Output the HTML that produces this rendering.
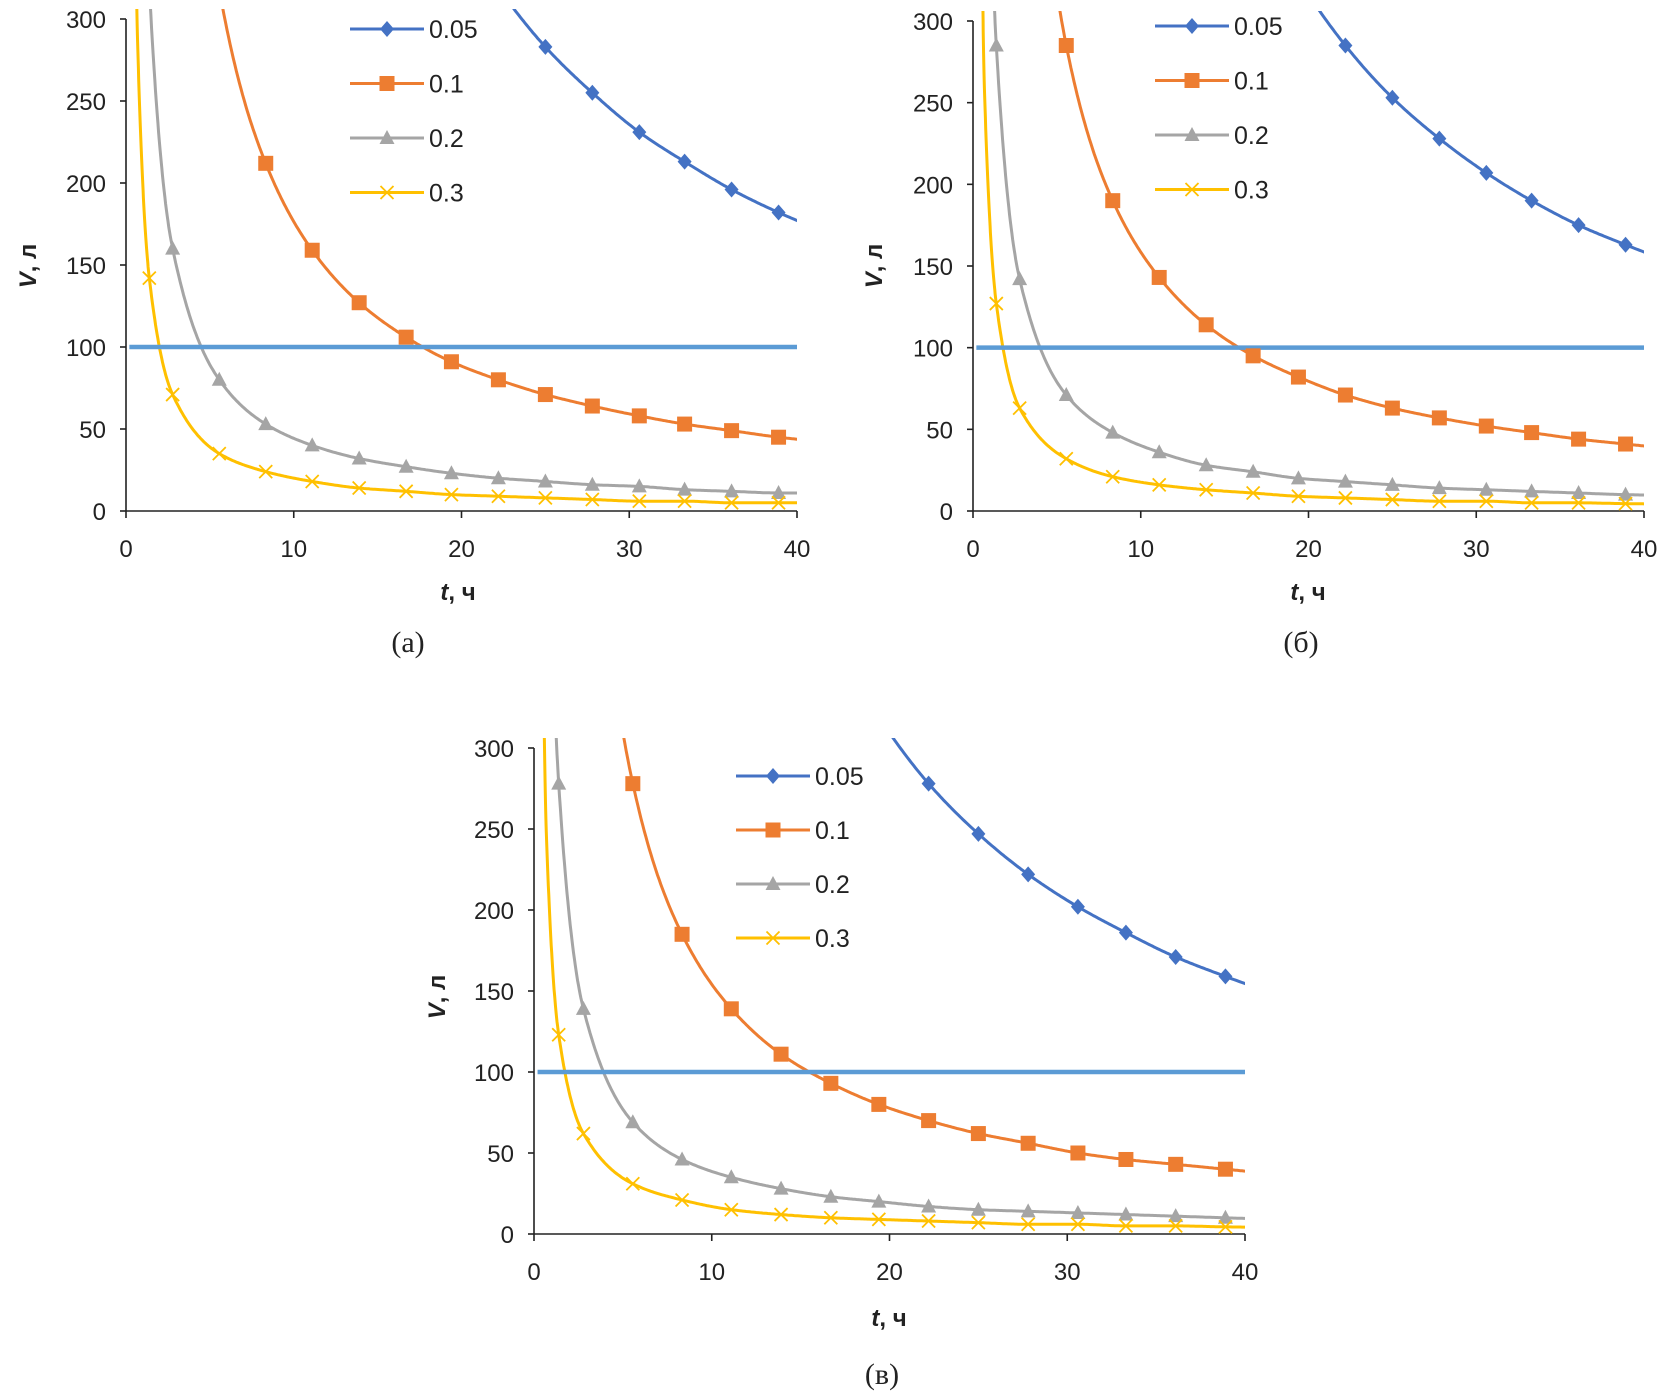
<!DOCTYPE html>
<html><head><meta charset="utf-8"><style>
html,body{margin:0;padding:0;background:#fff;}
svg{display:block;}
text{font-family:"Liberation Sans",sans-serif;fill:#222;}
</style></head><body>
<svg id="root" width="1663" height="1399" viewBox="0 0 1663 1399" xmlns="http://www.w3.org/2000/svg"></svg>
<script>
const tValues = [0.35,0.69,1.39,2.78,5.56,8.33,11.1,13.9,16.7,19.4,22.2,25,27.8,30.6,33.3,36.1,38.9,41.7];
const seriesNames = ["0.05","0.1","0.2","0.3"];
const xTicks = [0,10,20,30,40];
const yTicks = [0,50,100,150,200,250,300];
const thresholdValue = [100];
const panelA05 = [20229,10261,5094,2547,1273,850,638,509,424,365,319,283,255,231,213,196,182,170];
const panelA10 = [5049,2561,1271,636,318,212,159,127,106,91,80,71,64,58,53,49,45,42];
const panelA20 = [1271,645,320,160,80,53,40,32,27,23,20,18,16,15,13,12,11,11];
const panelA30 = [563,286,142,71,35,24,18,14,12,10,9,8,7,6,6,5,5,5];
const panelB05 = [18086,9174,4554,2277,1138,760,570,455,379,326,285,253,228,207,190,175,163,152];
const panelB10 = [4529,2297,1140,570,285,190,143,114,95,82,71,63,57,52,48,44,41,38];
const panelB20 = [1131,574,285,142,71,48,36,28,24,20,18,16,14,13,12,11,10,9.5];
const panelB30 = [503,255,127,63,32,21,16,13,11,9,8,7,6,6,5,5,4.5,4.2];
const panelC05 = [17657,8957,4446,2223,1112,742,557,445,370,319,278,247,222,202,186,171,159,148];
const panelC10 = [4414,2239,1112,556,278,185,139,111,93,80,70,62,56,50,46,43,40,37];
const panelC20 = [1103,559,278,139,69,46,35,28,23,20,17,15,14,13,12,11,10,9];
const panelC30 = [489,248,123,62,31,21,15,12,10,9,8,7,6,6,5,5,4.4,4.1];

const NS="http://www.w3.org/2000/svg";
const root=document.getElementById('root');
const colors=["#4472c4","#ed7d31","#a5a5a5","#ffc000"];
const markerTypes=["diamond","square","triangle","cross"];
function mk(tag,attrs,parent){const e=document.createElementNS(NS,tag);for(const k in attrs)e.setAttribute(k,attrs[k]);(parent||root).appendChild(e);return e;}

function monotone(xs,ys,n){
  const m=xs.length,d=[],s=[];
  for(let i=0;i<m-1;i++)d.push((ys[i+1]-ys[i])/(xs[i+1]-xs[i]));
  s[0]=d[0];s[m-1]=d[m-2];
  for(let i=1;i<m-1;i++){ if(d[i-1]*d[i]<=0)s[i]=0; else {const w1=2*(xs[i+1]-xs[i])+(xs[i]-xs[i-1]),w2=(xs[i+1]-xs[i])+2*(xs[i]-xs[i-1]);s[i]=(w1+w2)/(w1/d[i-1]+w2/d[i]);} }
  const out=[];
  for(let i=0;i<m-1;i++){const h=xs[i+1]-xs[i];
    for(let k=0;k<n;k++){const u=k/n,h00=2*u*u*u-3*u*u+1,h10=u*u*u-2*u*u+u,h01=-2*u*u*u+3*u*u,h11=u*u*u-u*u;
      out.push([xs[i]+u*h,h00*ys[i]+h10*h*s[i]+h01*ys[i+1]+h11*h*s[i+1]]);}}
  out.push([xs[m-1],ys[m-1]]);return out;
}

function panel(id,cfg,series){
  const g=mk('g',{});
  
  
  const X=v=>cfg.x0+(v/40)*(cfg.x1-cfg.x0);
  const Y=v=>cfg.y0-(v/300)*(cfg.y0-cfg.y1);
  const cp=mk('clipPath',{id:'clip'+id},g);
  mk('rect',{x:cfg.x0,y:cfg.y1-10,width:cfg.x1-cfg.x0,height:cfg.y0-cfg.y1+10},cp);
  const ax=mk('line',{x1:cfg.x0,y1:cfg.y1,x2:cfg.x0,y2:cfg.y0,stroke:'#222','stroke-width':1.6},g);
  
  const bx=mk('line',{x1:cfg.x0,y1:cfg.y0,x2:cfg.x1,y2:cfg.y0,stroke:'#222','stroke-width':1.6},g);
  
  yTicks.forEach(v=>{mk('line',{x1:cfg.x0-6,x2:cfg.x0,y1:Y(v),y2:Y(v),stroke:'#222','stroke-width':1.6},g);
    const t=mk('text',{x:cfg.x0-20,y:Y(v)+9,'text-anchor':'end','font-size':24},g);t.textContent=v;
    });
  xTicks.forEach(v=>{mk('line',{x1:X(v),x2:X(v),y1:cfg.y0,y2:cfg.y0+7,stroke:'#222','stroke-width':1.6},g);
    const t=mk('text',{x:X(v),y:cfg.y0+46,'text-anchor':'middle','font-size':24},g);t.textContent=v;
    });
  const cg=mk('g',{'clip-path':'url(#clip'+id+')'},g);
  const th=mk('line',{x1:X(0.2),x2:X(40),y1:Y(thresholdValue[0]),y2:Y(thresholdValue[0]),stroke:'#5b9bd5','stroke-width':4.5},g);
  
  series.forEach((vals,si)=>{
    const xs=tValues.map(t=>t),ys=vals.map(v=>Math.min(v,2000));
    const pts=monotone(xs,ys,30).map(p=>X(p[0]).toFixed(1)+','+Y(p[1]).toFixed(1)).join(' ');
    const pl=mk('polyline',{points:pts,fill:'none',stroke:colors[si],'stroke-width':3},cg);
    
    tValues.forEach((t,i)=>{ if(t<1||t>40||vals[i]>305)return;
      const m=drawMarker(markerTypes[si],X(t),Y(vals[i]),colors[si],g);
      });
    const ly=cfg.leg[1]+si*cfg.legStep;
    const lg=mk('g',{},g);
    
    mk('line',{x1:cfg.leg[0],x2:cfg.leg[0]+74,y1:ly,y2:ly,stroke:colors[si],'stroke-width':3},lg);
    drawMarker(markerTypes[si],cfg.leg[0]+37,ly,colors[si],lg);
    const lt=mk('text',{x:cfg.leg[0]+79,y:ly+9,'font-size':25},lg);lt.textContent=seriesNames[si];
  });
  const yt=mk('text',{x:0,y:0,'font-size':24,'font-weight':'bold','text-anchor':'middle',transform:`translate(${cfg.yt[0]},${cfg.yt[1]}) rotate(-90)`},g);
  yt.innerHTML='<tspan font-style="italic">V</tspan>, л';
  
  const xt=mk('text',{x:cfg.xt[0],y:cfg.xt[1],'font-size':24,'font-weight':'bold','text-anchor':'middle'},g);
  xt.innerHTML='<tspan font-style="italic">t</tspan>, ч';
  
  const cap=mk('text',{x:cfg.cap[0],y:cfg.cap[1],'font-size':30,'text-anchor':'middle'},g);
  cap.style.fontFamily='"Liberation Serif",serif';cap.textContent=cfg.capText;
  
}
function drawMarker(type,x,y,c,parent){
  if(type==='diamond')return mk('path',{d:`M${x},${y-8}L${x+7},${y}L${x},${y+8}L${x-7},${y}Z`,fill:c},parent);
  if(type==='square')return mk('rect',{x:x-7.5,y:y-7.5,width:15,height:15,fill:c},parent);
  if(type==='triangle')return mk('path',{d:`M${x},${y-8}L${x+7.5},${y+6}L${x-7.5},${y+6}Z`,fill:c},parent);
  return mk('path',{d:`M${x-6.5},${y-6.5}L${x+6.5},${y+6.5}M${x+6.5},${y-6.5}L${x-6.5},${y+6.5}`,stroke:c,'stroke-width':1.8,fill:'none'},parent);
}
panel('a',{x0:126,x1:797,y1:19,y0:511,leg:[350,29],legStep:54.5,yt:[36,266],xt:[458,600],cap:[408,652],capText:'(a)'},[panelA05,panelA10,panelA20,panelA30]);
panel('b',{x0:973,x1:1644,y1:21,y0:511,leg:[1155,26],legStep:54.5,yt:[882,266],xt:[1308,600],cap:[1301,652],capText:'(б)'},[panelB05,panelB10,panelB20,panelB30]);
panel('c',{x0:534,x1:1245,y1:748,y0:1234,leg:[736,776],legStep:54,yt:[445,997],xt:[889,1326],cap:[882,1384],capText:'(в)'},[panelC05,panelC10,panelC20,panelC30]);
</script>
</body></html>
